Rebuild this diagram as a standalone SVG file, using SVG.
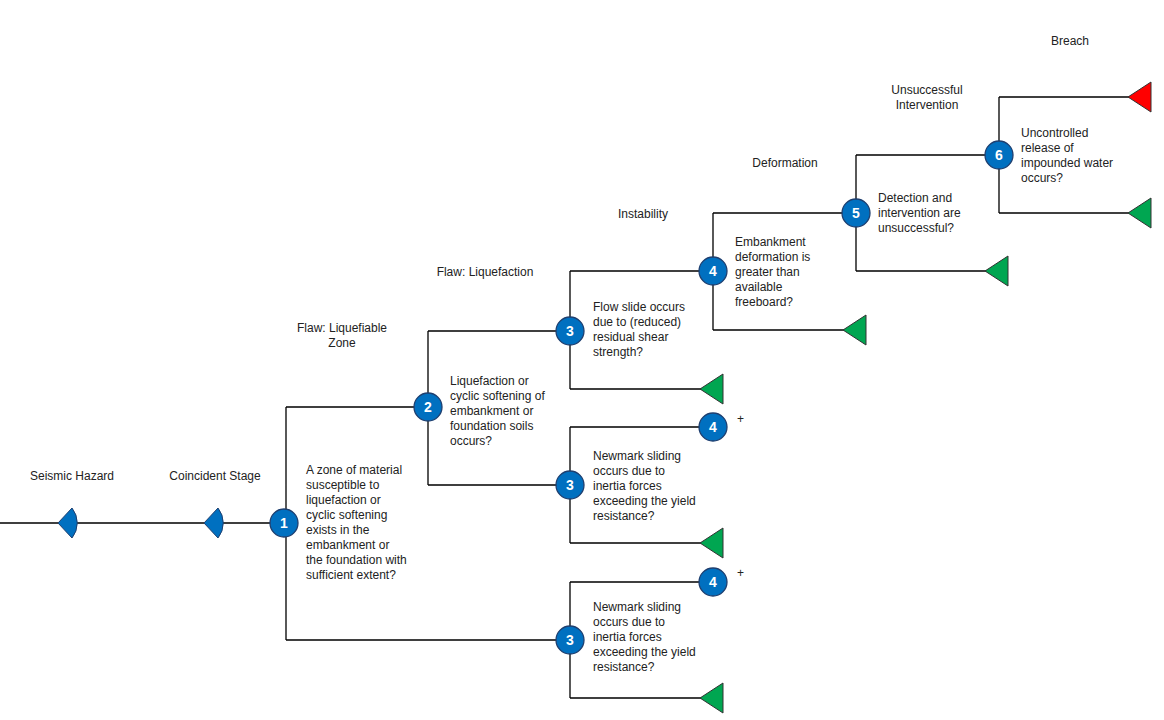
<svg xmlns="http://www.w3.org/2000/svg" width="1164" height="720" viewBox="0 0 1164 720">
<style>
.l{stroke:#000;stroke-width:1.3;fill:none}
.n circle{fill:#0070c0;stroke:#1f3f6f;stroke-width:1.3}
.n text{font-family:"Liberation Sans",Arial,sans-serif;font-size:14px;font-weight:bold;fill:#fff;text-anchor:middle}
text{font-family:"Liberation Sans",Arial,sans-serif;font-size:12px;fill:#222}
.c{text-anchor:middle}
.g{fill:#00a651;stroke:#333;stroke-width:1}
.r{fill:#ff0000;stroke:#333;stroke-width:1}
.h{fill:#0070c0;stroke:#1f3f6f;stroke-width:1}
</style>
<defs>
<path id="tri" d="M0,0 L23,-15 L23,15 Z"/>
<path id="half" d="M0,0 L14,-15 A24,24 0 0 1 14,15 Z"/>
</defs>
<g id="connectors">
<path class="l" d="M0,523 H270 M286,407 V640 M286,407 H428 M286,640 H570 M428,331 V485 M428,331 H570 M428,485 H570 M570,271 V389 M570,271 H713 M570,389 H705 M713,213 V330 M713,213 H856 M713,330 H848 M856,155 V271 M856,155 H999 M856,271 H990 M999,97 V213 M999,97 H1133 M999,213 H1133 M570,427 V543 M570,427 H713 M570,543 H705 M570,582 V698 M570,582 H713 M570,698 H705"/>
</g>
<g id="stage-labels">
<text class="c" x="72" y="480">Seismic Hazard</text>
<text class="c" x="215" y="480">Coincident Stage</text>
<text class="c" x="342" y="332">Flaw: Liquefiable</text>
<text class="c" x="342" y="347">Zone</text>
<text class="c" x="485" y="276">Flaw: Liquefaction</text>
<text class="c" x="643" y="218">Instability</text>
<text class="c" x="785" y="167">Deformation</text>
<text class="c" x="927" y="94">Unsuccessful</text>
<text class="c" x="927" y="109">Intervention</text>
<text class="c" x="1070" y="45">Breach</text>
</g>
<g id="hazard"><use href="#half" x="58" y="523" class="h"/></g>
<g id="coincident"><use href="#half" x="204" y="523" class="h"/></g>
<g id="node1" class="n"><circle cx="284" cy="523" r="14"/><text x="284" y="528">1</text></g>
<text x="306" y="474">A zone of material</text>
<text x="306" y="489">susceptible to</text>
<text x="306" y="504">liquefaction or</text>
<text x="306" y="519">cyclic softening</text>
<text x="306" y="534">exists in the</text>
<text x="306" y="549">embankment or</text>
<text x="306" y="564">the foundation with</text>
<text x="306" y="579">sufficient extent?</text>
<g id="node2" class="n"><circle cx="428" cy="407" r="14"/><text x="428" y="412">2</text></g>
<text x="450" y="385">Liquefaction or</text>
<text x="450" y="400">cyclic softening of</text>
<text x="450" y="415">embankment or</text>
<text x="450" y="430">foundation soils</text>
<text x="450" y="445">occurs?</text>
<g id="node3a" class="n"><circle cx="570" cy="331" r="14"/><text x="570" y="336">3</text></g>
<text x="593" y="311">Flow slide occurs</text>
<text x="593" y="326">due to (reduced)</text>
<text x="593" y="341">residual shear</text>
<text x="593" y="356">strength?</text>
<g id="node4a" class="n"><circle cx="713" cy="271" r="14"/><text x="713" y="276">4</text></g>
<text x="735" y="246">Embankment</text>
<text x="735" y="261">deformation is</text>
<text x="735" y="276">greater than</text>
<text x="735" y="291">available</text>
<text x="735" y="306">freeboard?</text>
<g id="node5" class="n"><circle cx="856" cy="213" r="14"/><text x="856" y="218">5</text></g>
<text x="878" y="202">Detection and</text>
<text x="878" y="217">intervention are</text>
<text x="878" y="232">unsuccessful?</text>
<g id="node6" class="n"><circle cx="999" cy="155" r="14"/><text x="999" y="160">6</text></g>
<text x="1021" y="137">Uncontrolled</text>
<text x="1021" y="152">release of</text>
<text x="1021" y="167">impounded water</text>
<text x="1021" y="182">occurs?</text>
<g id="node3b" class="n"><circle cx="570" cy="485" r="14"/><text x="570" y="490">3</text></g>
<text x="593" y="460">Newmark sliding</text>
<text x="593" y="475">occurs due to</text>
<text x="593" y="490">inertia forces</text>
<text x="593" y="505">exceeding the yield</text>
<text x="593" y="520">resistance?</text>
<g id="node4b" class="n"><circle cx="713" cy="427" r="14"/><text x="713" y="432">4</text></g>
<text x="737" y="423">+</text>
<g id="node3c" class="n"><circle cx="570" cy="640" r="14"/><text x="570" y="645">3</text></g>
<text x="593" y="611">Newmark sliding</text>
<text x="593" y="626">occurs due to</text>
<text x="593" y="641">inertia forces</text>
<text x="593" y="656">exceeding the yield</text>
<text x="593" y="671">resistance?</text>
<g id="node4c" class="n"><circle cx="713" cy="582" r="14"/><text x="713" y="587">4</text></g>
<text x="737" y="577">+</text>
<g id="end1"><use href="#tri" x="700" y="389" class="g"/></g>
<g id="end2"><use href="#tri" x="843" y="330" class="g"/></g>
<g id="end3"><use href="#tri" x="985" y="271" class="g"/></g>
<g id="end4"><use href="#tri" x="1128" y="213" class="g"/></g>
<g id="end5"><use href="#tri" x="1128" y="97" class="r"/></g>
<g id="end6"><use href="#tri" x="700" y="543" class="g"/></g>
<g id="end7"><use href="#tri" x="700" y="698" class="g"/></g>
</svg>
